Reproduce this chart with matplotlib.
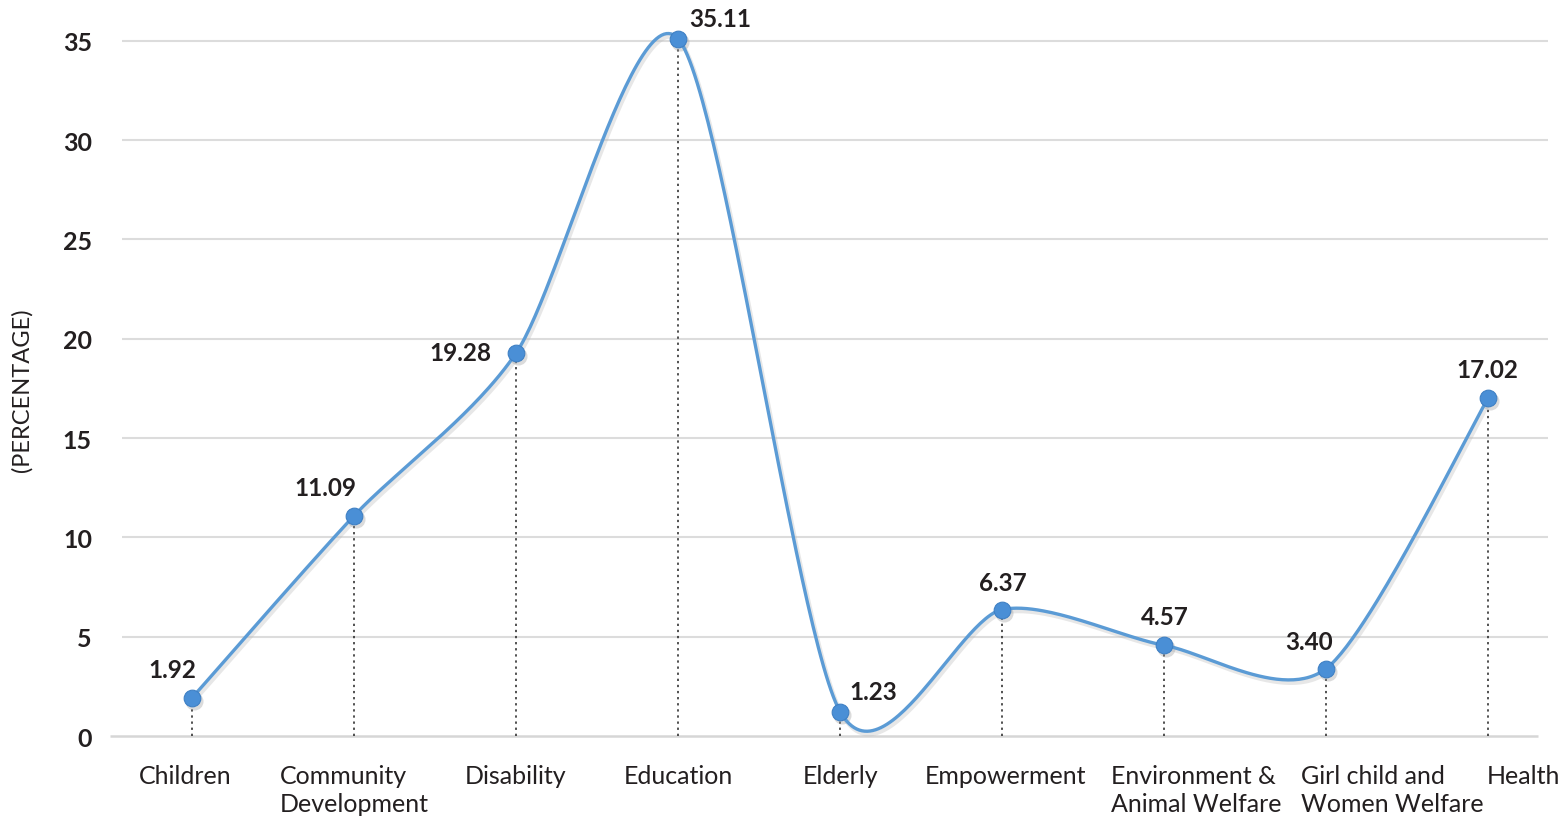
import numpy as np
import matplotlib.pyplot as plt
from matplotlib.transforms import blended_transform_factory, offset_copy

plt.rcParams["font.family"] = ["Lato", "DejaVu Sans"]

# data
categories = ["Children", "Community\nDevelopment", "Disability", "Education", "Elderly",
              "Empowerment", "Environment &\nAnimal Welfare", "Girl child and\nWomen Welfare", "Health"]
values = [1.92, 11.09, 19.28, 35.11, 1.23, 6.37, 4.57, 3.40, 17.02]
yticks = [0, 5, 10, 15, 20, 25, 30, 35]

# label placement (pixels) and small x shifts for category names
label_offsets = [(-20, 28), (-29, 28), (-56, 1), (42, 20), (33, 20), (1, 27), (1, 29), (-17, 27), (-1, 28)]
name_shift = [-0.04, 0, 0, 0, 0, 0.02, 0.2, 0.41, 0.22]

line_col = "#5b9bd5"
dot_col = "#4a8fd6"


def smooth(x, y, tension=0.8, n=60):
    # catmull-rom style bezier through the points
    x = np.asarray(x, float)
    y = np.asarray(y, float)
    px = np.concatenate([[x[0]], x, [x[-1]]])
    py = np.concatenate([[y[0]], y, [y[-1]]])
    xs, ys = [], []
    t = np.linspace(0, 1, n)
    for i in range(1, len(px) - 2):
        p0 = np.array([px[i], py[i]])
        p3 = np.array([px[i + 1], py[i + 1]])
        c1 = p0 + tension * (np.array([px[i + 1], py[i + 1]]) - np.array([px[i - 1], py[i - 1]])) / 6
        c2 = p3 - tension * (np.array([px[i + 2], py[i + 2]]) - np.array([px[i], py[i]])) / 6
        b = ((1 - t) ** 3)[:, None] * p0 + (3 * (1 - t) ** 2 * t)[:, None] * c1 \
            + (3 * (1 - t) * t ** 2)[:, None] * c2 + (t ** 3)[:, None] * p3
        xs.append(b[:, 0])
        ys.append(b[:, 1])
    return np.concatenate(xs), np.concatenate(ys)


x = np.arange(len(values))

fig = plt.figure(figsize=(15.67, 8.2), dpi=100)
ax = fig.add_axes([0.0702, 0.0866, 0.9178, 0.8866])
ax.set_xlim(-0.506, 8.37)
ax.set_ylim(-0.6, 36)

# grid + baseline
ax.hlines(yticks[1:], -0.43, 8.37, color="#dcdcdc", lw=1.5, zorder=0)
ax.hlines(0, -0.506, 8.31, color="#d6d6d6", lw=1.8, zorder=0)

# drop lines
ax.vlines(x, 0, values, colors="#222222", linestyles=(0, (1.5, 2.5)), lw=1.1, zorder=1)

sx, sy = smooth(x, values)
# soft shadow
shadow = offset_copy(ax.transData, fig=fig, x=2, y=-3, units="dots")
ax.plot(sx, sy, color="#bbbbbb", lw=3, alpha=0.35, transform=shadow, zorder=2)
ax.plot(x, values, "o", color="#999999", ms=13, alpha=0.35, mec="none", transform=shadow, zorder=2)

ax.plot(sx, sy, color=line_col, lw=2.4, zorder=3)
ax.plot(x, values, "o", color=dot_col, ms=12, mec="#3f80c4", mew=0.8, zorder=4)

for xi, v, (dx, dy) in zip(x, values, label_offsets):
    ax.annotate(f"{v:.2f}", (xi, v), xytext=(dx, dy), textcoords="offset pixels",
                ha="center", va="center", fontsize=17.5, fontweight="bold", color="#231f20")

# category names
trans = blended_transform_factory(ax.transData, fig.transFigure)
for xi, name, s in zip(x, categories, name_shift):
    ax.text(xi + s, 1 - 765 / 820, name, transform=trans, ha="center", va="top",
            multialignment="left", fontsize=18, color="#231f20", linespacing=1.25)

ax.set_xticks([])
ax.set_yticks(yticks)
ax.set_yticklabels([str(t) for t in yticks], fontsize=18, fontweight="bold", color="#231f20")
ax.tick_params(axis="y", length=0, pad=13)
for sp in ax.spines.values():
    sp.set_visible(False)

fig.text(22 / 1567, 1 - 390 / 820, "(PERCENTAGE)", rotation=90, ha="center", va="center",
         fontsize=17, color="#231f20")

fig.savefig("out.png", dpi=100)
